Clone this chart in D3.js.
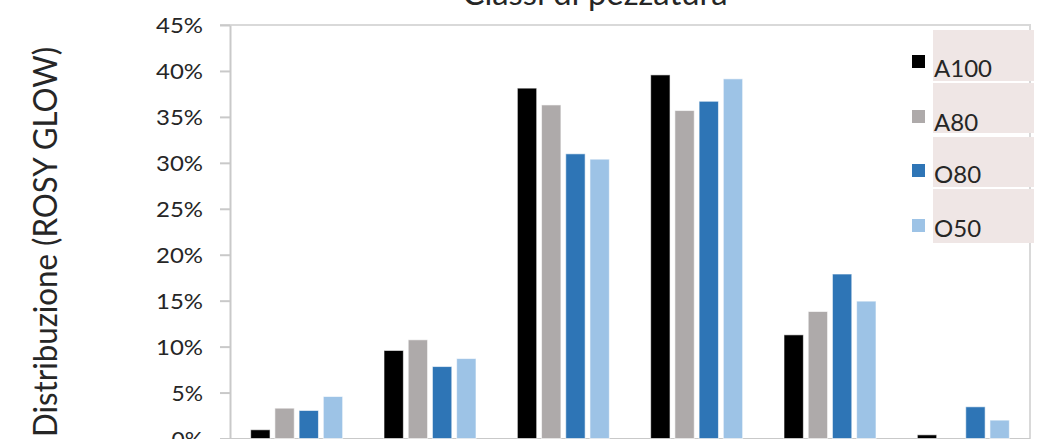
<!DOCTYPE html>
<html>
<head>
<meta charset="utf-8">
<script src="https://cdn.jsdelivr.net/npm/d3@7"></script>
<style>
  html, body { margin: 0; padding: 0; background: #fff; overflow: hidden; }
  svg { display: block; }
  text { font-family: Lato, "Open Sans", sans-serif; fill: #262626; }
</style>
</head>
<body>
<div id="chart"></div>
<script>
// Size classes (pezzatura) and the share of fruit in each class per treatment
const categories = ["<65 mm", "65-70 mm", "70-75 mm", "75-80 mm", "80-85 mm", ">85 mm"];
const seriesNames = ["A100", "A80", "O80", "O50"];
const A100 = [0.0095, 0.0958, 0.3813, 0.3957, 0.1128, 0.0040];
const A80  = [0.0330, 0.1074, 0.3630, 0.3569, 0.1382, 0.0000];
const O80  = [0.0305, 0.0783, 0.3098, 0.3670, 0.1790, 0.0345];
const O50  = [0.0457, 0.0870, 0.3040, 0.3914, 0.1495, 0.0200];
const yTicks = [0, 0.05, 0.10, 0.15, 0.20, 0.25, 0.30, 0.35, 0.40, 0.45];
const colors = ["#000000", "#AEAAAA", "#2E75B6", "#9DC3E6"];

const seriesValues = [A100, A80, O80, O50];
const rows = categories.map((c, i) => ({
  cat: c,
  vals: seriesNames.map((s, k) => ({ key: s, value: seriesValues[k][i] }))
}));

const W = 1049, H = 439;
const plot = { left: 230, right: 1030, top: 25, bottom: 438.5 };

const svg = d3.select("#chart").append("svg")
  .attr("width", W).attr("height", H);

const x0 = d3.scaleBand().domain(categories).range([plot.left, plot.right]).padding(0);
const groupW = 92;
const x1 = d3.scaleBand().domain(seriesNames)
  .range([(x0.bandwidth() - groupW) / 2, (x0.bandwidth() + groupW) / 2])
  .paddingInner(0.2).paddingOuter(0);
const y = d3.scaleLinear().domain([0, 0.45]).range([plot.bottom, plot.top]);
const color = d3.scaleOrdinal().domain(seriesNames).range(colors);

// plot frame (top and right edges)
svg.append("path")
  .attr("d", `M${plot.left - 10},${plot.top}H${plot.right}V${plot.bottom}`)
  .attr("fill", "none").attr("stroke", "#D9D9D9").attr("stroke-width", 2);

// y axis
const yAxis = svg.append("g")
  .attr("transform", `translate(${plot.left},0)`)
  .call(d3.axisLeft(y).tickValues(yTicks).tickFormat(d3.format(".0%")).tickSizeInner(10).tickSizeOuter(0).tickPadding(17));
yAxis.select(".domain").attr("stroke", "#C9C9C9").attr("stroke-width", 2);
yAxis.selectAll(".tick line").attr("stroke", "#C9C9C9").attr("stroke-width", 2);
yAxis.selectAll(".tick text")
  .style("font-family", "Lato, sans-serif")
  .attr("font-size", 21)
  .attr("fill", "#262626")
  .attr("dy", "0.36em")
  .each(function () {
    const t = d3.select(this);
    const n = t.text().length;
    t.attr("textLength", (n - 1) * 15.5 + 16).attr("lengthAdjust", "spacingAndGlyphs");
  });

// baseline of the category axis
const xAxis = svg.append("g")
  .attr("transform", `translate(0,${plot.bottom})`)
  .call(d3.axisBottom(x0).tickSize(0).tickFormat(() => ""));
xAxis.select(".domain").attr("stroke", "#C9C9C9").attr("stroke-width", 2);

// bars
const groups = svg.append("g").selectAll("g").data(rows).join("g")
  .attr("transform", d => `translate(${x0(d.cat)},0)`);
groups.selectAll("rect").data(d => d.vals).join("rect")
  .attr("x", d => x1(d.key))
  .attr("width", x1.bandwidth())
  .attr("y", d => y(d.value))
  .attr("height", d => y(0) - y(d.value))
  .attr("fill", d => color(d.key))
  .attr("stroke", "#ffffff").attr("stroke-opacity", 0.6).attr("stroke-width", 1);

// title
svg.append("text")
  .attr("x", 595).attr("y", 5)
  .attr("text-anchor", "middle")
  .attr("font-size", 32)
  .attr("textLength", 265).attr("lengthAdjust", "spacingAndGlyphs")
  .text("Classi di pezzatura");

// y axis title
svg.append("text")
  .attr("transform", "translate(57,242) rotate(-90)")
  .attr("text-anchor", "middle")
  .attr("font-size", 33)
  .attr("textLength", 390).attr("lengthAdjust", "spacingAndGlyphs")
  .text("Distribuzione (ROSY GLOW)");

// legend
const legendBoxes = [[30, 81], [83, 133], [137, 187], [189, 243]];
const legendSwatchY = [55, 110, 164, 219];
const legendBaseline = [77, 131, 183, 237];
const legend = svg.append("g").selectAll("g").data(seriesNames).join("g");
legend.append("rect")
  .attr("x", 933).attr("width", 101)
  .attr("y", (d, i) => legendBoxes[i][0])
  .attr("height", (d, i) => legendBoxes[i][1] - legendBoxes[i][0])
  .attr("fill", "#EFE6E5");
legend.append("rect")
  .attr("x", 912).attr("width", 13)
  .attr("y", (d, i) => legendSwatchY[i]).attr("height", 13)
  .attr("fill", d => color(d));
legend.append("text")
  .attr("x", 934)
  .attr("y", (d, i) => legendBaseline[i])
  .attr("font-size", 24)
  .text(d => d);
</script>
</body>
</html>
